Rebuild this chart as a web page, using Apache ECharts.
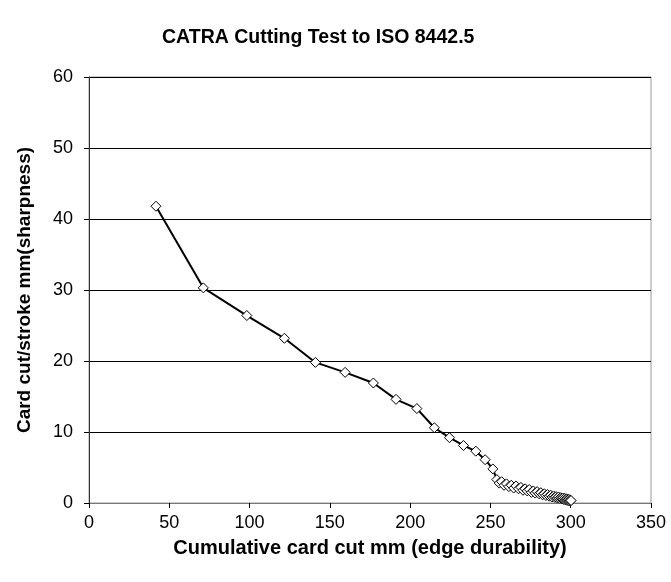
<!DOCTYPE html>
<html>
<head>
<meta charset="utf-8">
<script src="https://cdn.jsdelivr.net/npm/echarts@6/dist/echarts.min.js"></script>
<style>
html, body { margin: 0; padding: 0; background: #fff; }
#chart { width: 671px; height: 582px; }
</style>
</head>
<body>
<div id="chart"></div>
<script>
// cumulative card cut (mm) and card cut per stroke (mm)
var cumulativeCut = [41.7, 71.2, 98.3, 121.7, 141.0, 159.5, 177.1, 191.2, 204.2, 215.1,
	224.5, 233.2, 240.9, 246.7, 251.5, 254.0,
	255.5, 257, 258.5, 260, 261.5, 263, 264.5, 266, 267.5, 269, 270.3, 271.6, 272.9, 274.2,
	275.5, 276.7, 277.9, 279.1, 280.3, 281.4, 282.5, 283.6, 284.6, 285.6, 286.6, 287.5,
	288.4, 289.3, 290.1, 290.9, 291.7, 292.4, 293.1, 293.8, 294.4, 295, 295.6, 296.1,
	296.6, 297.1, 297.5, 297.9, 298.3, 298.7, 299.1, 299.5, 299.9, 300.2];
var cutPerStroke = [41.8, 30.3, 26.4, 23.2, 19.8, 18.4, 16.9, 14.6, 13.3, 10.6,
	9.2, 8.1, 7.3, 6.1, 4.8, 3.3,
	2.8, 3.0, 2.5, 2.7, 2.3, 2.5, 2.1, 2.4, 2.0, 2.2, 1.8, 2.0, 1.7, 1.9, 1.5,
	1.7, 1.4, 1.6, 1.3, 1.45, 1.15, 1.3, 1.05, 1.2, 0.95, 1.1, 0.85, 1.0, 0.8,
	0.9, 0.7, 0.85, 0.65, 0.75, 0.6, 0.7, 0.5, 0.65, 0.45, 0.6, 0.4, 0.55, 0.35,
	0.5, 0.3, 0.45, 0.3, 0.35];

var points = [];
for (var i = 0; i < cumulativeCut.length; i++) {
	points.push([cumulativeCut[i], cutPerStroke[i]]);
}

var chart = echarts.init(document.getElementById('chart'));
var font = 'Liberation Sans, Arial, sans-serif';

chart.setOption({
	animation : false,
	backgroundColor : '#fff',
	title : {
		text : 'CATRA Cutting Test to ISO 8442.5',
		left : 157,
		top : 23,
		textStyle : { fontFamily : font, fontSize : 19.5, fontWeight : 'bold', color : '#000' }
	},
	grid : { left : 89, right : 20, top : 77, bottom : 79, show : true, borderColor : '#999', borderWidth : 1 },
	xAxis : {
		type : 'value',
		min : 0,
		max : 350,
		interval : 50,
		name : 'Cumulative card cut mm (edge durability)',
		nameLocation : 'middle',
		nameGap : 35,
		nameTextStyle : { fontFamily : font, fontSize : 20, fontWeight : 'bold', color : '#000' },
		axisLine : { lineStyle : { color : '#777', width : 1 } },
		axisTick : { inside : false, length : 5, lineStyle : { color : '#000' } },
		axisLabel : { fontFamily : font, fontSize : 18, color : '#000', margin : 11 },
		splitLine : { show : false }
	},
	yAxis : {
		type : 'value',
		min : 0,
		max : 60,
		interval : 10,
		name : 'Card cut/stroke mm(sharpness)',
		nameLocation : 'middle',
		nameGap : 55,
		nameTextStyle : { fontFamily : font, fontSize : 19, fontWeight : 'bold', color : '#000' },
		axisLine : { show : true, lineStyle : { color : '#333', width : 1 } },
		axisTick : { show : true, inside : false, length : 5, lineStyle : { color : '#000' } },
		axisLabel : { fontFamily : font, fontSize : 18, color : '#000', margin : 16 },
		splitLine : { show : true, lineStyle : { color : '#000', width : 1 } }
	},
	series : [{
		type : 'line',
		data : points,
		symbol : 'diamond',
		symbolSize : [10, 10],
		showAllSymbol : true,
		lineStyle : { color : '#000', width : 2 },
		itemStyle : { color : '#fff', borderColor : '#000', borderWidth : 1 }
	}]
});
</script>
</body>
</html>
